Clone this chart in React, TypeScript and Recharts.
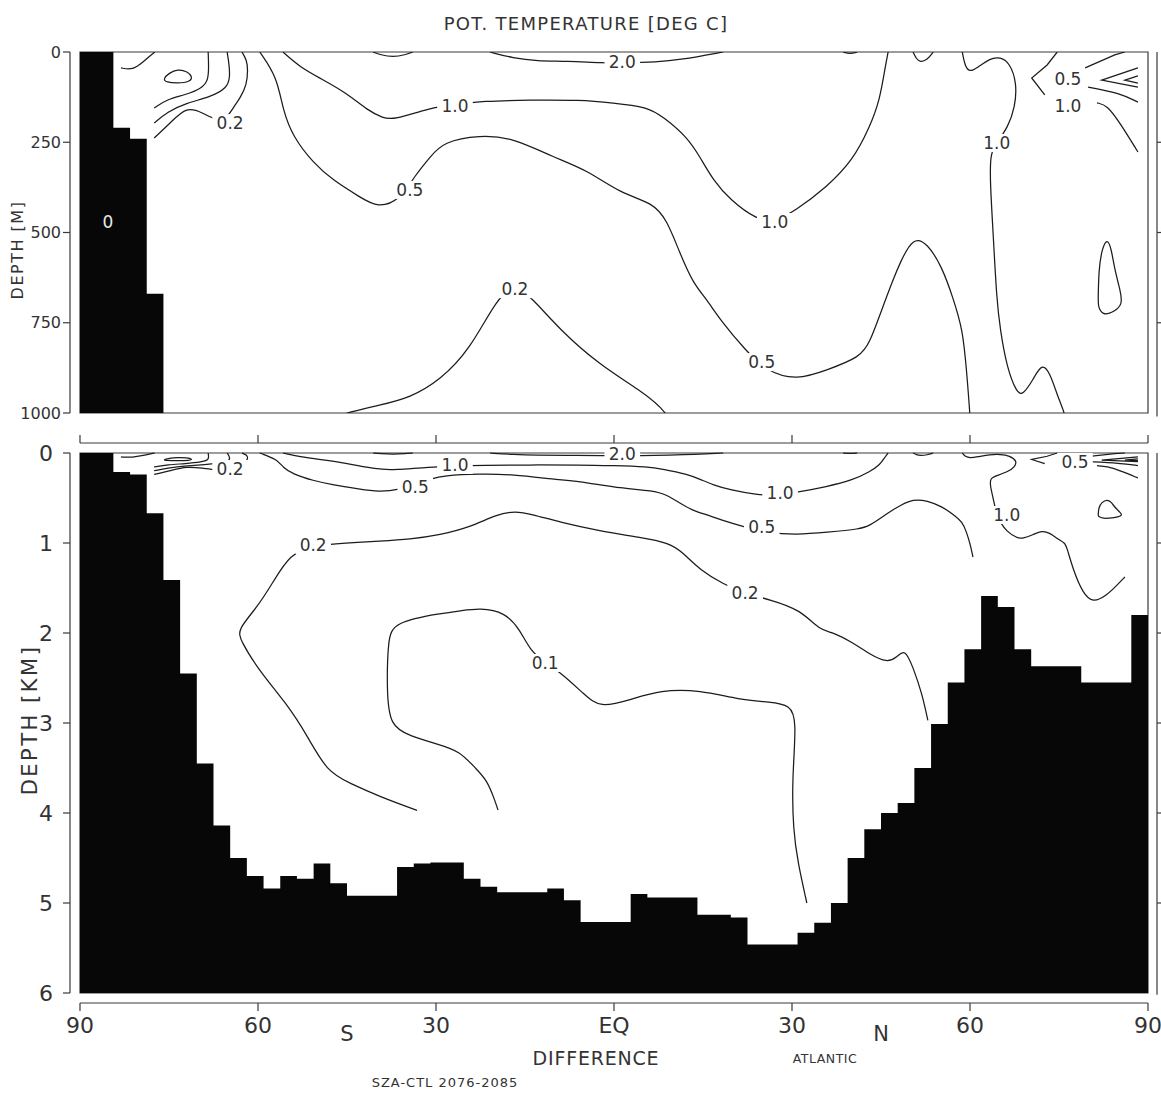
import React from 'react';
import { ComposedChart, Area, Line, Scatter, XAxis, YAxis, ReferenceLine, ReferenceArea } from 'recharts';

type Pt = [number, number];

// bottom depth (km) of the 64 model columns, 2.8125 deg wide, from 90S to 90N
const bottomDepth = [
  0, 0, 0.21, 0.24, 0.67, 1.41, 2.45, 3.45, 4.14, 4.5, 4.7, 4.84, 4.7, 4.73, 4.56, 4.78,
  4.92, 4.92, 4.92, 4.6, 4.56, 4.55, 4.55, 4.73, 4.82, 4.88, 4.88, 4.88, 4.84, 4.97, 5.21, 5.21,
  5.21, 4.9, 4.94, 4.94, 4.94, 5.13, 5.13, 5.16, 5.46, 5.46, 5.46, 5.33, 5.22, 5.0, 4.5, 4.18,
  4.0, 3.89, 3.5, 3.01, 2.55, 2.18, 1.59, 1.71, 2.18, 2.37, 2.37, 2.37, 2.55, 2.55, 2.55, 1.8,
];

// contour lines as [latitude, depth km]
const c01: Pt[] = [[-83.1, 0.044], [-81.1, 0.05], [-79.4, 0.028], [-77.4, 0]];
const c02: Pt[] = [[-76, 0.075], [-75, 0.058], [-73.5, 0.048], [-72, 0.053], [-71, 0.068], [-71.5, 0.083], [-73.5, 0.087], [-75.5, 0.084]];
const c03: Pt[] = [[-77.5, 0.155], [-75.2, 0.13], [-72.3, 0.119], [-69.4, 0.1], [-68.4, 0.078], [-68.3, 0.042], [-68.4, 0]];
const c04: Pt[] = [[-77.5, 0.197], [-75.3, 0.166], [-72.0, 0.141], [-68.1, 0.125], [-65.2, 0.1], [-64.7, 0.069], [-64.9, 0.03], [-65.2, 0]];
const c05: Pt[] = [[-77.5, 0.238], [-74.8, 0.197], [-72.0, 0.15], [-69.3, 0.169], [-67.2, 0.188], [-65.5, 0.19], [-64, 0.15], [-63.0, 0.127], [-61.9, 0.091], [-61.7, 0.05], [-61.9, 0.022], [-62.7, 0]];
const c06: Pt[] = [
  [-59.7, 0], [-56.8, 0.069], [-55.8, 0.161], [-54.1, 0.235], [-50.7, 0.307], [-47.4, 0.355], [-42.8, 0.402],
  [-39.8, 0.432], [-36.1, 0.41], [-33.5, 0.341], [-31.0, 0.291], [-28.8, 0.249], [-22.6, 0.23], [-17.0, 0.238],
  [-10.3, 0.291], [-4.5, 0.327], [1.0, 0.391], [6.6, 0.418], [8.9, 0.465], [11.1, 0.557], [13.3, 0.64],
  [15.7, 0.687], [17.9, 0.742], [22.1, 0.825], [25.8, 0.886], [30.8, 0.909], [35.9, 0.881], [41.5, 0.845],
  [43.1, 0.806], [45.3, 0.706], [47.0, 0.632], [48.2, 0.584], [50.4, 0.512], [52.8, 0.529], [55.3, 0.596],
  [57.1, 0.679], [58.8, 0.77], [59.4, 0.88], [60.0, 1.0], [60.5, 1.156],
];
const c07: Pt[] = [
  [-55.8, 0], [-52.9, 0.042], [-49.6, 0.072], [-45.0, 0.114], [-41.6, 0.161], [-38.9, 0.183], [-37.2, 0.188],
  [-31.0, 0.155], [-26.8, 0.145], [-22.2, 0.136], [-14.2, 0.133], [-5.7, 0.133], [-0.2, 0.141], [5.6, 0.152],
  [8.3, 0.18], [12.3, 0.235], [14.5, 0.291], [16.7, 0.355], [19.6, 0.41], [24.1, 0.465], [27.1, 0.47],
  [30.5, 0.44], [35.9, 0.374], [40.3, 0.299], [43.1, 0.208], [44.8, 0.133], [45.7, 0.042], [46.2, 0],
];
const c08: Pt[] = [[-20.9, 0], [-17.0, 0.017], [-13.0, 0.025], [-7.9, 0.025], [-1.9, 0.03], [1.4, 0.03], [7.2, 0.028], [11.1, 0.022], [18.4, 0]];
const c09: Pt[] = [[-40.6, 0], [-39.4, 0.008], [-37.2, 0.014], [-35.2, 0.008], [-33.9, 0]];
const c10: Pt[] = [[38.6, 0], [39.8, 0.006], [41.0, 0]];
const c11: Pt[] = [[50.4, 0], [51.0, 0.02], [51.6, 0.028], [52.8, 0.022], [53.8, 0]];
const c12: Pt[] = [
  [58.7, 0], [59.2, 0.042], [60.0, 0.055], [61.2, 0.044], [63.4, 0.017], [65.1, 0.014], [66.7, 0.03],
  [67.9, 0.086], [67.6, 0.152], [66.4, 0.208], [64.5, 0.252], [63.4, 0.28], [63.4, 0.363], [63.9, 0.501],
  [64.5, 0.687], [65.1, 0.77], [66.2, 0.873], [67.9, 0.945], [68.9, 0.95], [70.6, 0.909], [72.1, 0.861],
  [73.5, 0.889], [74.8, 0.956], [76.0, 1.0], [76.3, 1.044], [77.4, 1.3], [79.0, 1.556], [80.7, 1.667],
  [83.1, 1.578], [84.8, 1.467], [86.1, 1.378],
];
const c13: Pt[] = [[74.7, 0], [73.0, 0.036], [70.4, 0.072], [72.6, 0.119]];
const c14: Pt[] = [[79.4, 0.044], [84.4, 0.008], [86.1, 0]];
const c15: Pt[] = [[88.3, 0.044], [82.2, 0.078], [88.3, 0.097]];
const c16: Pt[] = [[88.3, 0.066], [86.1, 0.078], [88.3, 0.086]];
const c17: Pt[] = [[79.9, 0.097], [85.3, 0.114], [88.3, 0.139]];
const c18: Pt[] = [[81.4, 0.141], [83.1, 0.147], [85.3, 0.197], [88.3, 0.277]];
const c19: Pt[] = [[81.6, 0.687], [81.7, 0.604], [82.2, 0.548], [83.1, 0.515], [83.8, 0.543], [84.4, 0.604], [85.3, 0.659], [85.8, 0.701], [83.9, 0.723], [82.4, 0.729], [81.6, 0.706]];
const c20: Pt[] = [
  [-19.55, 3.967], [-20.1, 3.856], [-21.4, 3.633], [-23.4, 3.5], [-26.0, 3.311], [-29.8, 3.233], [-34.4, 3.144],
  [-37.8, 3.033], [-38.3, 2.633], [-38.1, 2.078], [-37.2, 1.878], [-28.8, 1.778], [-26.0, 1.756], [-22.6, 1.722],
  [-18.4, 1.767], [-15.8, 1.967], [-14.2, 2.189], [-11.6, 2.333], [-9.1, 2.433], [-4.9, 2.689], [-2.4, 2.833],
  [2.7, 2.744], [7.8, 2.633], [14.5, 2.633], [21.2, 2.744], [26.3, 2.767], [29.7, 2.8], [30.8, 2.967],
  [30.0, 3.633], [30.2, 4.189], [31.0, 4.556], [32.5, 5.0],
];
const c21: Pt[] = [
  [-33.2, 3.97], [-39.4, 3.82], [-44.5, 3.67], [-48.4, 3.54], [-51.7, 3.14], [-55.1, 2.79], [-59.7, 2.43],
  [-63.0, 2.08], [-63.4, 1.96], [-60.2, 1.72], [-57.5, 1.44], [-54.6, 1.12], [-50.7, 1.03], [-45.3, 1.0],
  [-39.4, 0.978], [-34.4, 0.958], [-29.3, 0.909], [-24.3, 0.825], [-19.7, 0.681], [-16.7, 0.645], [-13.8, 0.681],
  [-9.1, 0.77], [-2.4, 0.867], [4.3, 0.936], [9.4, 1.0], [11.5, 1.1], [14.5, 1.3], [18.5, 1.46], [22.1, 1.56],
  [26.3, 1.63], [31.4, 1.74], [34.7, 1.97], [36.9, 1.99], [40.3, 2.11], [43.2, 2.24], [46.0, 2.33], [47.7, 2.27],
  [49.0, 2.17], [50.4, 2.38], [51.9, 2.67], [52.9, 2.97],
];

const smoothContours = [c01, c03, c04, c05, c06, c07, c08, c09, c10, c11, c12, c17, c18, c20, c21];
const sharpContours = [c13, c14, c15, c16];
const closedContours = [c02, c19];

const topLabels = [
  { lat: -64.7, km: 0.197, text: '0.2' },
  { lat: -34.4, km: 0.382, text: '0.5' },
  { lat: -26.8, km: 0.15, text: '1.0' },
  { lat: 1.4, km: 0.028, text: '2.0' },
  { lat: 27.1, km: 0.471, text: '1.0' },
  { lat: 24.9, km: 0.859, text: '0.5' },
  { lat: -16.7, km: 0.657, text: '0.2' },
  { lat: 64.5, km: 0.252, text: '1.0' },
  { lat: 76.5, km: 0.075, text: '0.5' },
  { lat: 76.5, km: 0.15, text: '1.0' },
];
const bottomLabels = [
  { lat: -64.7, km: 0.178, text: '0.2' },
  { lat: -26.8, km: 0.133, text: '1.0' },
  { lat: -33.5, km: 0.378, text: '0.5' },
  { lat: 1.4, km: 0.015, text: '2.0' },
  { lat: 28.0, km: 0.444, text: '1.0' },
  { lat: 24.9, km: 0.822, text: '0.5' },
  { lat: 77.7, km: 0.1, text: '0.5' },
  { lat: 66.2, km: 0.689, text: '1.0' },
  { lat: -50.7, km: 1.022, text: '0.2' },
  { lat: 22.1, km: 1.556, text: '0.2' },
  { lat: -11.6, km: 2.333, text: '0.1' },
];
const landLabels = [{ lat: -85.3, km: 0.471, text: '0' }];

const latTicks = [-90, -60, -30, 0, 30, 60, 90];
const topDepthTicks = [0, 0.25, 0.5, 0.75, 1];
const bottomDepthTicks = [0, 1, 2, 3, 4, 5, 6];

const FONT = '"DejaVu Sans", Verdana, sans-serif';
const INK = '#1c1c1c';
const AXIS = '#3a3a3a';
const TXT = '#333';
const X_DOMAIN: [number, number] = [-91.685, 91.517];
const CELL = 2.8125;

const rows = (pts: Pt[]) => pts.map(([lat, km]) => ({ lat, km }));
const bathyRows = (cap: number) => [
  ...bottomDepth.map((d, i) => ({ lat: -90 + i * CELL, km: Math.min(d, cap) })),
  { lat: 90, km: Math.min(bottomDepth[bottomDepth.length - 1], cap) },
];

function ContourLabel(props: any) {
  const { cx, cy, payload } = props;
  if (cx == null || cy == null) return null;
  const w = payload.text.length * 9.2 + 8;
  return (
    <g>
      <rect x={cx - w / 2} y={cy - 9} width={w} height={18} fill="#fff" />
      <text x={cx} y={cy} dy="0.36em" textAnchor="middle" fontSize={17} fontFamily={FONT} fill={TXT}>
        {payload.text}
      </text>
    </g>
  );
}

function LandLabel(props: any) {
  const { cx, cy, payload } = props;
  if (cx == null || cy == null) return null;
  return (
    <text x={cx} y={cy} dy="0.36em" textAnchor="middle" fontSize={17} fontFamily={FONT} fill="#e8e8e8">
      {payload.text}
    </text>
  );
}

function contourLines(prefix: string) {
  const common = { dataKey: 'km', stroke: INK, strokeWidth: 1.25, dot: false, activeDot: false, isAnimationActive: false } as const;
  return [
    ...smoothContours.map((c, i) => <Line key={`${prefix}s${i}`} data={rows(c)} type="basis" {...common} />),
    ...sharpContours.map((c, i) => <Line key={`${prefix}k${i}`} data={rows(c)} type="linear" {...common} />),
    ...closedContours.map((c, i) => <Line key={`${prefix}c${i}`} data={rows(c)} type="basisClosed" {...common} />),
  ];
}

const seg = (x1: number, y1: number, x2: number, y2: number, key: string) => (
  <ReferenceLine key={key} segment={[{ x: x1, y: y1 }, { x: x2, y: y2 }]} stroke={AXIS} strokeWidth={1.2} ifOverflow="visible" />
);

export default function App() {
  return (
    <div style={{ position: 'absolute', left: 0, top: 0, width: 1161, height: 1094, background: '#fff', overflow: 'hidden' }}>
      <div style={{ position: 'absolute', left: 0, top: 0 }}>
        <ComposedChart width={1161} height={440} margin={{ top: 52, right: 4, bottom: 27, left: 10 }}>
          <XAxis type="number" dataKey="lat" domain={X_DOMAIN} allowDataOverflow hide />
          <YAxis
            type="number"
            dataKey="km"
            domain={[0, 1]}
            reversed
            allowDataOverflow
            ticks={topDepthTicks}
            interval={0}
            width={60}
            tickSize={7}
            tickMargin={2}
            tickFormatter={(v: number) => String(Math.round(v * 1000))}
            tick={{ fontSize: 16, fill: TXT, fontFamily: FONT }}
            axisLine={{ stroke: AXIS, strokeWidth: 1.2 }}
            tickLine={{ stroke: AXIS, strokeWidth: 1.2 }}
          />
          <ReferenceArea x1={-90} x2={90} y1={0} y2={1} fill="none" stroke={AXIS} strokeWidth={1.2} ifOverflow="visible" />
          <Area data={bathyRows(1)} dataKey="km" type="stepAfter" baseValue={1} fill="#070707" fillOpacity={1} stroke="none" isAnimationActive={false} />
          {contourLines('t')}
          <Scatter data={topLabels} dataKey="km" shape={ContourLabel} isAnimationActive={false} />
          <Scatter data={landLabels} dataKey="km" shape={LandLabel} isAnimationActive={false} />
          {seg(91.517, 0, 91.517, 1.01, 'r')}
          {[0.25, 0.5, 0.75].map((k) => seg(91.517, k, 92.7, k, `rt${k}`))}
        </ComposedChart>
      </div>
      <div style={{ position: 'absolute', left: 0, top: 430 }}>
        <ComposedChart width={1161} height={664} margin={{ top: 23, right: 4, bottom: 41, left: 10 }}>
          <XAxis
            type="number"
            dataKey="lat"
            domain={X_DOMAIN}
            ticks={latTicks}
            interval={0}
            height={60}
            axisLine={false}
            tickLine={false}
            tickSize={0}
            tickMargin={24}
            tickFormatter={(v: number) => (v === 0 ? 'EQ' : String(Math.abs(v)))}
            tick={{ fontSize: 22, fill: TXT, fontFamily: FONT }}
          />
          <YAxis
            type="number"
            dataKey="km"
            domain={[0, 6]}
            reversed
            ticks={bottomDepthTicks}
            interval={0}
            width={60}
            tickSize={7}
            tickMargin={10}
            tick={{ fontSize: 22, fill: TXT, fontFamily: FONT }}
            axisLine={{ stroke: AXIS, strokeWidth: 1.2 }}
            tickLine={{ stroke: AXIS, strokeWidth: 1.2 }}
          />
          <ReferenceArea x1={-90} x2={90} y1={0} y2={6} fill="none" stroke={AXIS} strokeWidth={1.2} ifOverflow="visible" />
          <Area data={bathyRows(6)} dataKey="km" type="stepAfter" baseValue={6} fill="#070707" fillOpacity={1} stroke="none" isAnimationActive={false} />
          {contourLines('b')}
          <Scatter data={bottomLabels} dataKey="km" shape={ContourLabel} isAnimationActive={false} />
          {seg(-90, -0.111, 90, -0.111, 'ta')}
          {latTicks.map((t) => seg(t, -0.111, t, -0.2, `tt${t}`))}
          {seg(-90, 6.111, 90, 6.111, 'ba')}
          {latTicks.map((t) => seg(t, 6.111, t, 6.2, `bt${t}`))}
          {seg(91.517, 0, 91.517, 6.02, 'r')}
          {[1, 2, 3, 4, 5].map((k) => seg(91.517, k, 92.7, k, `rt${k}`))}
        </ComposedChart>
      </div>
      <svg width={1161} height={1094} style={{ position: 'absolute', left: 0, top: 0, pointerEvents: 'none' }} fontFamily={FONT} fill={TXT}>
        <text x={586} y={30} textAnchor="middle" fontSize={18} letterSpacing={1.3}>POT. TEMPERATURE [DEG C]</text>
        <text transform="translate(23,250) rotate(-90)" textAnchor="middle" fontSize={16} letterSpacing={1.5}>DEPTH [M]</text>
        <text transform="translate(37,720) rotate(-90)" textAnchor="middle" fontSize={21} letterSpacing={2.5}>DEPTH [KM]</text>
        <text x={347} y={1041} textAnchor="middle" fontSize={21}>S</text>
        <text x={881} y={1041} textAnchor="middle" fontSize={21}>N</text>
        <text x={596} y={1065} textAnchor="middle" fontSize={19} letterSpacing={0.8}>DIFFERENCE</text>
        <text x={825} y={1063} textAnchor="middle" fontSize={12.5} letterSpacing={0.5}>ATLANTIC</text>
        <text x={445} y={1087} textAnchor="middle" fontSize={13} letterSpacing={1}>SZA-CTL 2076-2085</text>
      </svg>
    </div>
  );
}
